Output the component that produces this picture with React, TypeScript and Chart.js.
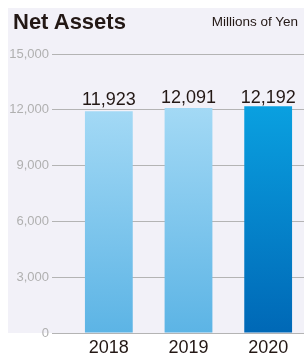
import React, { useEffect, useRef } from "react";
import { Chart, registerables } from "chart.js";

Chart.register(...registerables);

const categories = ["2018", "2019", "2020"];
const netAssets = [11923, 12091, 12192];
const yTicks = [0, 3000, 6000, 9000, 12000, 15000];

const FONT = "'Liberation Sans', Arial, Helvetica, sans-serif";

export default function App() {
  const ref = useRef<HTMLCanvasElement | null>(null);

  useEffect(() => {
    document.documentElement.style.overflow = "hidden";
    document.body.style.margin = "0";
    const canvas = ref.current;
    if (!canvas) return;

    const bgPlugin = {
      id: "bg",
      beforeDraw(chart: any) {
        const { ctx, width } = chart;
        const y0 = chart.scales.y.getPixelForValue(0);
        ctx.save();
        ctx.fillStyle = "#f2f1f8";
        ctx.fillRect(0, 0, width, y0);
        ctx.restore();
      },
    };

    const labelPlugin = {
      id: "vals",
      afterDatasetsDraw(chart: any) {
        const { ctx } = chart;
        const meta = chart.getDatasetMeta(0);
        const ys = chart.scales.y;
        ctx.save();
        ctx.font = `18px ${FONT}`;
        ctx.fillStyle = "#231815";
        ctx.textAlign = "center";
        ctx.textBaseline = "alphabetic";
        meta.data.forEach((bar: any, i: number) => {
          const y = Math.max(bar.y - 6, ys.getPixelForValue(12000) - 7);
          ctx.fillText(netAssets[i].toLocaleString("en-US"), bar.x, y);
        });
        ctx.restore();
      },
    };

    const makeGrad = (ctx: any, area: any, top: string, bottom: string) => {
      const g = ctx.createLinearGradient(0, area.top, 0, area.bottom);
      g.addColorStop(0, top);
      g.addColorStop(1, bottom);
      return g;
    };

    const chart = new Chart(canvas, {
      type: "bar",
      data: {
        labels: categories,
        datasets: [
          {
            data: netAssets,
            backgroundColor: (c: any) => {
              const { chart: ch, dataIndex } = c;
              const area = ch.chartArea;
              if (!area) return "#7cc4ec";
              const yb = ch.scales.y.getPixelForValue(0);
              const yt = ch.scales.y.getPixelForValue(netAssets[dataIndex]);
              const a = { top: yt, bottom: yb };
              if (dataIndex === categories.length - 1) {
                return makeGrad(ch.ctx, a, "#0aa0e0", "#0068b6");
              }
              return makeGrad(ch.ctx, a, "#a3d9f5", "#5cb4e5");
            },
            borderWidth: 0,
            categoryPercentage: 0.6,
            barPercentage: 1,
          },
        ],
      },
      options: {
        responsive: false,
        animation: false,
        maintainAspectRatio: false,
        layout: { padding: { top: 46, right: 0, bottom: 0, left: 0 } },
        plugins: {
          legend: { display: false },
          tooltip: { enabled: false },
          title: { display: false },
        },
        scales: {
          x: {
            afterFit(scale: any) {
              scale.height = 23;
            },
            grid: { display: false },
            border: { display: false },
            ticks: {
              color: "#231815",
              font: { family: FONT, size: 18 },
              padding: -4,
            },
          },
          y: {
            min: 0,
            max: 15000,
            afterFit(scale: any) {
              scale.width = 61;
            },
            afterBuildTicks(scale: any) {
              scale.ticks = yTicks.map((v) => ({ value: v }));
            },
            grid: {
              color: "#b4b4b4",
              lineWidth: 1,
              drawTicks: true,
              tickLength: 17,
            },
            border: { display: false },
            ticks: {
              color: "#b0b0b0",
              font: { family: FONT, size: 13 },
              padding: 3,
              callback: (v: any) => Number(v).toLocaleString("en-US"),
            },
          },
        },
      },
      plugins: [bgPlugin, labelPlugin],
    } as any);

    return () => chart.destroy();
  }, []);

  return (
    <div style={{ width: 304, height: 356, overflow: "hidden", background: "#ffffff" }}>
      <div style={{ position: "relative", marginLeft: 8, marginTop: 8, width: 296, height: 348, overflow: "hidden", display: "inline-block", verticalAlign: "top" }}>
        <canvas ref={ref} width={300} height={348} style={{ display: "block", width: 300, height: 348 }} />
        <div
          style={{
            position: "absolute",
            left: 5,
            top: 1,
            fontFamily: FONT,
            fontWeight: "bold",
            fontSize: 22,
            color: "#231815",
            lineHeight: "26px",
          }}
        >
          Net Assets
        </div>
        <div
          style={{
            position: "absolute",
            right: 6,
            top: 6,
            fontFamily: FONT,
            fontSize: 13.5,
            color: "#231815",
            lineHeight: "16px",
            whiteSpace: "nowrap",
          }}
        >
          Millions of Yen
        </div>
      </div>
    </div>
  );
}
